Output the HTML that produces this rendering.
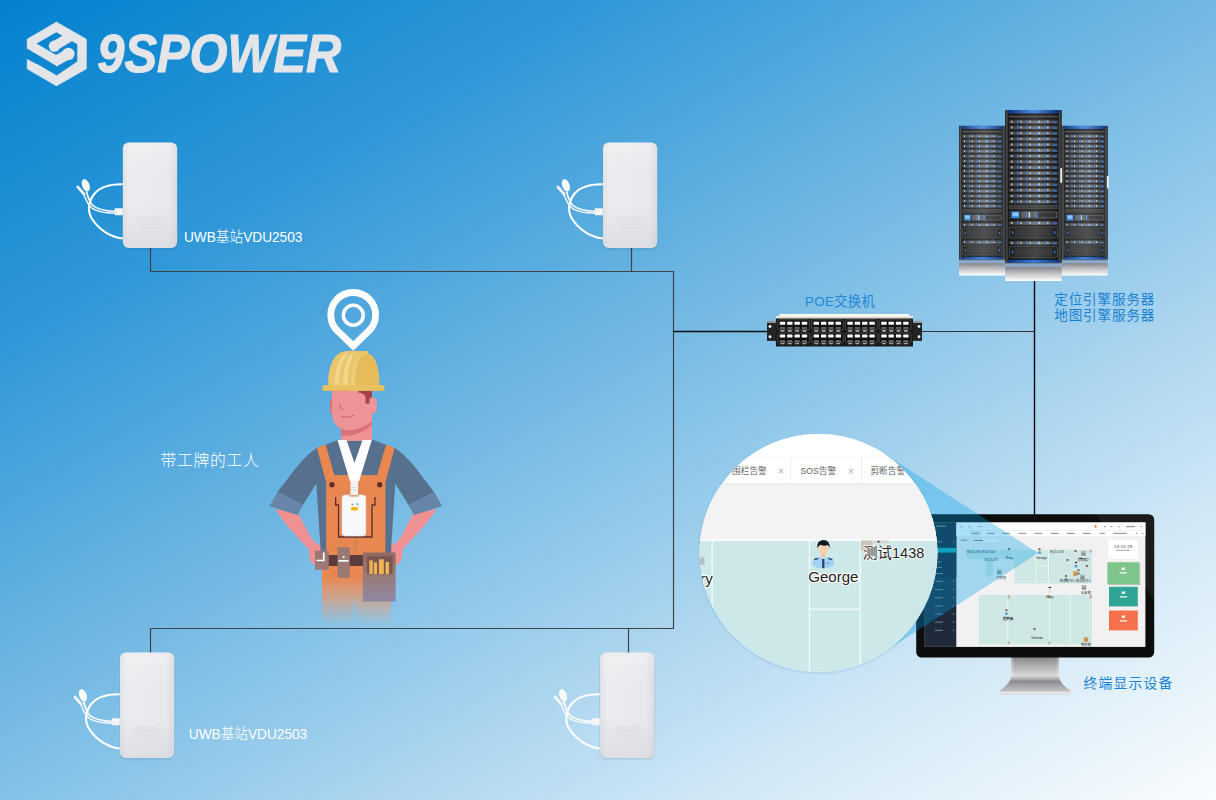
<!DOCTYPE html>
<html lang="zh-CN">
<head>
<meta charset="utf-8">
<title>UWB定位系统</title>
<style>
html,body{margin:0;padding:0;}
body{width:1216px;height:800px;overflow:hidden;position:relative;
background:linear-gradient(150deg,#0381cf 0%,#3299d8 24%,#72b8e3 47%,#83c1e7 53%,#d1e8f6 80.7%,#f9fcfe 100%);
font-family:"Liberation Sans","Noto Sans CJK SC",sans-serif;}
svg{position:absolute;left:0;top:0;display:block;}
text{font-family:"Liberation Sans","Noto Sans CJK SC",sans-serif;}
.lw{fill:#fff;font-size:14.500px;font-weight:300;}
.lb{fill:#1a82d2;font-size:13.600px;font-weight:400;letter-spacing:0.850px;}
</style>
</head>
<body>
<svg width="1216" height="800" viewBox="0 0 1216 800">
<defs>
<linearGradient id="stBody" x1="0" y1="0" x2="1" y2="0">
<stop offset="0" stop-color="#dfe2e6"/><stop offset="0.12" stop-color="#ebecef"/><stop offset="0.85" stop-color="#e8e9ed"/><stop offset="1" stop-color="#d9dce1"/>
</linearGradient>
<linearGradient id="stBodyV" x1="0" y1="0" x2="0" y2="1"><stop offset="0" stop-color="#ffffff" stop-opacity="0.150"/><stop offset="0.35" stop-color="#ffffff" stop-opacity="0"/><stop offset="0.6" stop-color="#c8ccd4" stop-opacity="0"/><stop offset="1" stop-color="#c8ccd4" stop-opacity="0.400"/></linearGradient>
<g id="station">
<!-- cable -->
<path d="M53.500 41.700 C40 41.400 30 44 24 52 C18 60 17.500 70 23 77.500 C30 88 42 95 53.500 96" fill="none" stroke="#ffffff" stroke-width="2.100"/>
<path d="M46 69 C36 68.500 27 67 22.500 62.500 C19 58.500 18 54 16.600 49" fill="none" stroke="#ffffff" stroke-width="1.700"/>
<path d="M46 70.800 C35 70.500 25 69 20.500 64 C16.500 59.500 15.500 55.500 13.800 51.500" fill="none" stroke="#f6f7f9" stroke-width="1.500"/>
<rect x="44.800" y="65.700" width="9" height="7" rx="1" fill="#f6f7f9"/>
<path d="M47 66 V72.500" stroke="#dfe2e6" stroke-width="0.600"/>
<ellipse cx="16" cy="42.800" rx="3.700" ry="6.400" transform="rotate(-20 16 42.800)" fill="#fbfbfc"/>
<path d="M8 44.500 L14.200 51.600" stroke="#f4f5f7" stroke-width="2.700" stroke-linecap="round"/>
<!-- body -->
<rect x="52" y="1.500" width="56.400" height="106.200" rx="7" fill="#0a3c66" opacity="0.050"/>
<rect x="52.500" y="1" width="55.400" height="105.800" rx="6.500" fill="#0a3c66" opacity="0.060"/>
<rect x="53" y="0" width="54.400" height="105.600" rx="6" fill="url(#stBody)"/>
<rect x="53" y="0" width="54.400" height="105.600" rx="6" fill="url(#stBodyV)"/>
<rect x="68.500" y="74.700" width="23.500" height="7" rx="3.500" fill="#e4e6ea" stroke="#d6d9de" stroke-width="0.700"/>
<rect x="73" y="77" width="14.500" height="2.400" rx="1.200" fill="#dcdfe4"/>
<rect x="58" y="5.500" width="42" height="5" rx="1" fill="#ffffff" opacity="0.180"/>
</g>
</defs>

<!-- connection lines -->
<g fill="none" stroke="#3d4349" stroke-width="1.200">
<path d="M150.500 248 V271.500 H673.500 V628.500 H150.500 V653"/>
<path d="M631.500 248 V271.500"/>
<path d="M628.500 628.500 V653"/>
</g>
<path d="M673.500 331.500 H768" stroke="#111" stroke-width="1.300" fill="none"/>
<path d="M921 331.500 H1034" stroke="#333" stroke-width="1.200" fill="none"/>
<path d="M1034.500 281 V516" stroke="#0a0a0a" stroke-width="1.400" fill="none"/>

<!-- base stations -->
<use href="#station" x="69.800" y="142.500"/>
<use href="#station" x="549.900" y="142.500"/>
<use href="#station" x="66.900" y="652.500"/>
<use href="#station" x="547.100" y="652.500"/>

<!-- labels -->
<text class="lw" x="184" y="242.100" textLength="118.400" lengthAdjust="spacingAndGlyphs">UWB基站VDU2503</text>
<text class="lw" x="188.800" y="739.100" textLength="118.400" lengthAdjust="spacingAndGlyphs">UWB基站VDU2503</text>
<text class="lw" x="160.500" y="466.100" style="font-size:15.800px;letter-spacing:0.700px">带工牌的工人</text>
<text class="lb" x="805" y="305.700" textLength="70.200" lengthAdjust="spacingAndGlyphs" style="letter-spacing:0.400px;fill:#2186d6">POE交换机</text>
<text class="lb" x="1054.200" y="303.700">定位引擎服务器</text>
<text class="lb" x="1054.200" y="319.900">地图引擎服务器</text>
<text class="lb" x="1083.500" y="687.600" style="font-size:13.800px;letter-spacing:1.200px">终端显示设备</text>

<!--WORKER-->
<g id="worker">
<defs>
<linearGradient id="legFade" x1="0" y1="549" x2="0" y2="626" gradientUnits="userSpaceOnUse">
<stop offset="0" stop-color="#e8874f"/><stop offset="0.36" stop-color="#e8874f"/><stop offset="0.62" stop-color="#e39a72" stop-opacity="0.78"/><stop offset="1" stop-color="#dfa88a" stop-opacity="0"/>
</linearGradient>
<linearGradient id="pouchFade" x1="0" y1="552" x2="0" y2="602" gradientUnits="userSpaceOnUse">
<stop offset="0" stop-color="#8f6962"/><stop offset="0.45" stop-color="#9a7874"/><stop offset="1" stop-color="#8d8aa6"/>
</linearGradient>
<g id="wkHalf">
<!-- forearm + hand -->
<path d="M275 509 C282 520 290 529 296 535.500 L309 549.500 Q309 558 311 561.500 Q313 565 316 564.500 L321 563 V545.500 Q318 544.500 316.500 543.500 L311.500 538.500 L298.500 514 Z" fill="#ef9092"/>
<!-- shirt: sleeve + torso half -->
<path d="M356 439 L338 440 L316.900 448 C306 455 296 467 288.700 477.500 L277.500 492 L303 505 L316.300 483.500 L320.500 548 L320.500 553 L356 553 Z" fill="#56708e"/>
<!-- cuff -->
<path d="M277.500 491.900 L303.100 505 L297.500 515 L269.400 506.200 Z" fill="#6785a7"/>
<!-- overall strap + bib half -->
<path d="M316.900 448 L325.600 444.400 L334.400 475 L356 475 L356 556 L326.200 556 L326.200 482.500 Z" fill="#e8874f"/>
<circle cx="331.900" cy="484.700" r="2.600" fill="#5c2e30"/>
</g>
</defs>
<!-- legs / waist -->
<path d="M321.900 548.500 H392.500 L390.500 626 H357.500 L355 597 L352.500 626 H321.900 Z" fill="url(#legFade)"/>
<use href="#wkHalf"/>
<use href="#wkHalf" transform="translate(711.600 0) scale(-1 1)"/>
<!-- neck -->
<path d="M341.200 418 H372 V441 L356 446 L341.200 441 Z" fill="#ee9294"/>
<!-- shirt collar inner (between lanyard) -->
<path d="M346 441 H366 L356 466 Z" fill="#56708e"/>
<!-- face -->
<rect x="330" y="398.500" width="4" height="15.500" rx="2" fill="#d9767c"/>
<rect x="369" y="397.500" width="7.700" height="15.800" rx="3.600" fill="#ee9496"/>
<path d="M341.200 428 Q356 433 372 421 V425.200 Q357 437.500 341.200 435.600 Z" fill="#d9707a"/>
<path d="M332 390.500 H372 V421.800 Q357 431.500 345 430 Q338.500 429 334.500 423 Q332 419.500 332 414 Z" fill="#ee9496"/>
<path d="M358.300 390.300 H372 V397.600 L369.500 398.300 V403.500 H365.600 V397.200 Q364 393 358.300 392.600 Z" fill="#a5414c"/>
<path d="M339.800 404 q0.200 4 3.400 5.200" fill="none" stroke="#cf5f6b" stroke-width="1.100"/>
<path d="M341.200 416.300 q6.300 2.200 12.500 -1.100" fill="none" stroke="#cf5f6b" stroke-width="1.200"/>
<!-- helmet -->
<path d="M328.200 386 C327.800 370 331.500 357 341 352.200 L346 351 H368.200 V353.800 C375.500 356.500 379.800 369 379.300 386 Z" fill="#ebc66d"/>
<path d="M355.700 386 C354.500 372 357 361 363 355.300 C366 353.200 369 353.500 371 355 C376.500 359 379.700 371 379.300 386 Z" fill="#e6bb59"/>
<path d="M334.700 386 C334.200 372 338 360 345 353.500 L348.400 353.500 C342 360 338.800 372 339.300 386 Z" fill="#f2d78c"/>
<path d="M343.200 386 C342.700 372 345.500 360 351 353.500 L354.300 353.500 C349.500 360 347.300 372 347.800 386 Z" fill="#f2d78c"/>
<path d="M351.500 386 C351 372 353.500 362 358 355.500 L360 354.500 C356.500 361 354.600 372 355 386 Z" fill="#f0d080" opacity="0.700"/>
<rect x="322.400" y="385.300" width="62" height="5.600" rx="1" fill="#e9c264"/>
<rect x="322.400" y="389.600" width="62" height="1.300" fill="#d9ab4c" opacity="0.450"/>
<!-- lanyard -->
<path d="M337.500 440 H346.500 L354.500 463 L362.500 440 H371.800 L359 481.500 H350 Z" fill="#ffffff"/>
<rect x="350.500" y="481" width="7.600" height="14.500" rx="1" fill="#f3f4f5"/>
<path d="M351.500 487.500 H357 M351.500 490 H357" stroke="#cfd3d8" stroke-width="0.700"/>
<!-- pocket outline -->
<path d="M335.600 497 V505 H338.500 V537 H372 V505 H375 V497" fill="none" stroke="#5a3032" stroke-width="1.300"/>
<!-- badge -->
<rect x="342" y="495" width="23.800" height="41" rx="3.200" fill="#f7f8f9" stroke="#e1e3e6" stroke-width="0.600"/>
<rect x="349.500" y="495" width="9" height="1.600" fill="#e9a070"/>
<circle cx="352.300" cy="504.300" r="0.900" fill="#d05a4a"/>
<circle cx="357.300" cy="504.300" r="1.200" fill="#6fd0ee"/>
<rect x="350.800" y="507" width="7.400" height="3.600" rx="1.800" fill="#f0b21e"/>
<!-- belt -->
<rect x="326" y="555" width="38" height="11" fill="#5c3b3b"/>
<!-- pouches -->
<rect x="315" y="550.600" width="13.800" height="19.200" fill="#9b7873"/>
<path d="M323.800 552.500 V560.500 H316.500" fill="none" stroke="#fff" stroke-width="1.700"/>
<rect x="337.500" y="547.200" width="12.300" height="30.600" fill="#9b7873"/>
<path d="M338.500 560.800 H348.500" stroke="#fff" stroke-width="1.700"/>
<circle cx="343.600" cy="557" r="1.100" fill="#fff"/>
<rect x="362.900" y="552.500" width="32.700" height="49" fill="url(#pouchFade)"/>
<rect x="366.900" y="556.200" width="25.600" height="18" fill="#7c5651"/>
<rect x="369.400" y="560.300" width="3.300" height="13.700" fill="#f1b455"/>
<rect x="373.800" y="562.500" width="3.300" height="11.500" fill="#f1b455"/>
<rect x="379" y="559.300" width="4.800" height="14.700" fill="#f1b455"/>
<rect x="385.600" y="562" width="3.400" height="12" fill="#f1b455"/>
<!-- pin -->
<path d="M353.200 346 L338.560 331.860 A22.400 22.400 0 1 1 367.840 331.860 Z" fill="none" stroke="#fff" stroke-width="6.800" stroke-linejoin="miter" stroke-miterlimit="6"/>
<circle cx="353.300" cy="315.200" r="9.950" fill="none" stroke="#fff" stroke-width="3.500"/>
</g>
<!--/WORKER-->
<!--SWITCH-->
<g id="switch">
<defs><linearGradient id="swTop" x1="0" y1="0" x2="0" y2="1"><stop offset="0" stop-color="#ffffff"/><stop offset="0.55" stop-color="#f1eee8"/><stop offset="1" stop-color="#b9b2a4"/></linearGradient>
<g id="swGrp">
<rect x="0" y="0" width="31.800" height="10" rx="1.600" fill="#121212" stroke="#5a5a5a" stroke-width="0.700"/>
<rect x="2.00" y="1.85" width="5.400" height="3" rx="0.500" fill="#ffffff"/>
<rect x="2.20" y="7.4" width="5" height="1.600" fill="#777"/>
<rect x="2.70" y="10.4" width="4" height="1.200" rx="0.400" fill="#dcdcdc"/>
<rect x="9.33" y="1.85" width="5.400" height="3" rx="0.500" fill="#ffffff"/>
<rect x="9.53" y="7.4" width="5" height="1.600" fill="#777"/>
<rect x="10.03" y="10.4" width="4" height="1.200" rx="0.400" fill="#dcdcdc"/>
<rect x="16.66" y="1.85" width="5.400" height="3" rx="0.500" fill="#ffffff"/>
<rect x="16.86" y="7.4" width="5" height="1.600" fill="#777"/>
<rect x="17.36" y="10.4" width="4" height="1.200" rx="0.400" fill="#dcdcdc"/>
<rect x="23.99" y="1.85" width="5.400" height="3" rx="0.500" fill="#ffffff"/>
<rect x="24.19" y="7.4" width="5" height="1.600" fill="#777"/>
<rect x="24.69" y="10.4" width="4" height="1.200" rx="0.400" fill="#dcdcdc"/>
<rect x="0" y="13.2" width="31.800" height="9.7" rx="1.600" fill="#121212" stroke="#5a5a5a" stroke-width="0.700"/>
<rect x="2.00" y="14.8" width="5.400" height="3" rx="0.500" fill="#ffffff"/>
<rect x="2.20" y="20.6" width="5" height="1.600" fill="#777"/>
<rect x="2.70" y="23.3" width="4" height="1.200" rx="0.400" fill="#a9a9a9"/>
<rect x="9.33" y="14.8" width="5.400" height="3" rx="0.500" fill="#ffffff"/>
<rect x="9.53" y="20.6" width="5" height="1.600" fill="#777"/>
<rect x="10.03" y="23.3" width="4" height="1.200" rx="0.400" fill="#a9a9a9"/>
<rect x="16.66" y="14.8" width="5.400" height="3" rx="0.500" fill="#ffffff"/>
<rect x="16.86" y="20.6" width="5" height="1.600" fill="#777"/>
<rect x="17.36" y="23.3" width="4" height="1.200" rx="0.400" fill="#a9a9a9"/>
<rect x="23.99" y="14.8" width="5.400" height="3" rx="0.500" fill="#ffffff"/>
<rect x="24.19" y="20.6" width="5" height="1.600" fill="#777"/>
<rect x="24.69" y="23.3" width="4" height="1.200" rx="0.400" fill="#a9a9a9"/>
</g></defs>
<rect x="767" y="321.400" width="9" height="19.500" fill="#242424"/>
<rect x="767" y="321.400" width="9" height="1.400" fill="#b8b4ac"/>
<circle cx="770.0" cy="326.500" r="1.450" fill="#e9f1f8"/>
<circle cx="770.0" cy="336.800" r="1.450" fill="#e9f1f8"/>
<rect x="913" y="321.400" width="9" height="19.500" fill="#242424"/>
<rect x="913" y="321.400" width="9" height="1.400" fill="#b8b4ac"/>
<circle cx="919.0" cy="326.500" r="1.450" fill="#e9f1f8"/>
<circle cx="919.0" cy="336.800" r="1.450" fill="#e9f1f8"/>
<path d="M779.600 313.900 H909.300 V316.100 H913 V319 H775.900 V316.100 H779.600 Z" fill="url(#swTop)"/>
<rect x="775.900" y="318.600" width="137.100" height="27.900" fill="#1a1a1a"/>
<use href="#swGrp" x="777.8" y="319.800"/>
<use href="#swGrp" x="811.6" y="319.800"/>
<use href="#swGrp" x="845.4" y="319.800"/>
<use href="#swGrp" x="879.2" y="319.800"/>
</g>
<!--/SWITCH-->
<!--SERVERS-->
<g id="servers"><defs>
<linearGradient id="svRow" x1="0" y1="0" x2="1" y2="0"><stop offset="0" stop-color="#3c3c3c"/><stop offset="0.35" stop-color="#565656"/><stop offset="0.62" stop-color="#787878"/><stop offset="0.8" stop-color="#585858"/><stop offset="1" stop-color="#3a3a3a"/></linearGradient>
<linearGradient id="svBlue" x1="0" y1="0" x2="1" y2="0"><stop offset="0" stop-color="#0b2f78"/><stop offset="0.5" stop-color="#2f7fe6"/><stop offset="1" stop-color="#0b2f78"/></linearGradient>
<linearGradient id="svRail" x1="0" y1="0" x2="1" y2="0"><stop offset="0" stop-color="#2a2a2a"/><stop offset="0.5" stop-color="#4c4c4c"/><stop offset="1" stop-color="#1c1c1c"/></linearGradient>
<linearGradient id="svRef" x1="0" y1="0" x2="0" y2="1"><stop offset="0" stop-color="#5f6f86"/><stop offset="0.12" stop-color="#8fb2dc"/><stop offset="0.28" stop-color="#8a8c90"/><stop offset="0.6" stop-color="#c4c4c4"/><stop offset="1" stop-color="#ffffff"/></linearGradient>
<linearGradient id="svSheen" x1="0" y1="0" x2="1" y2="0"><stop offset="0" stop-color="#fff" stop-opacity="0"/><stop offset="0.55" stop-color="#fff" stop-opacity="0.13"/><stop offset="1" stop-color="#fff" stop-opacity="0"/></linearGradient>
<g id="svR">
<rect x="3.800" y="-1.800" width="48.800" height="3.600" fill="url(#svRow)"/>
<rect x="3.800" y="-1.800" width="48.800" height="0.900" fill="#222" opacity="0.600"/>
<rect x="12.0" y="-1.700" width="1.500" height="3.400" fill="#2a74d8"/>
<rect x="21.2" y="-1.700" width="1.500" height="3.400" fill="#2a74d8"/>
<rect x="39.4" y="-1.700" width="1.500" height="3.400" fill="#2a74d8"/>
<rect x="30.6" y="-0.200" width="3.600" height="1.600" fill="#2a74d8"/>
<rect x="48.0" y="-0.200" width="3.600" height="1.600" fill="#2a74d8"/>
<rect x="6.0" y="-1" width="1.300" height="2" fill="#d4d4d4"/>
<rect x="15.2" y="-1" width="1.300" height="2" fill="#d4d4d4"/>
<rect x="24.2" y="-1" width="1.300" height="2" fill="#d4d4d4"/>
<rect x="33.2" y="-1" width="1.300" height="2" fill="#d4d4d4"/>
<rect x="42.0" y="-1" width="1.300" height="2" fill="#d4d4d4"/>
</g>
<g id="svB">
<rect x="4.200" y="0" width="48" height="10.800" rx="0.800" fill="#1d1d1d" stroke="#5a5a5a" stroke-width="0.700"/>
<rect x="9.500" y="1.600" width="37.500" height="7.600" fill="#2c2c2c"/>
<rect x="6.600" y="4.200" width="1.500" height="2.600" fill="#2a74d8"/><rect x="48.700" y="4.200" width="1.500" height="2.600" fill="#2a74d8"/>
</g>
<g id="svCab">
<rect x="0" y="0" width="56.400" height="152.700" fill="#171717"/>
<rect x="0.300" y="0" width="3" height="152.700" fill="url(#svRail)"/><rect x="53.100" y="0" width="3" height="152.700" fill="url(#svRail)"/>
<rect x="2.600" y="0" width="51.200" height="3.400" fill="url(#svBlue)"/>
<rect x="3.800" y="5.800" width="48.800" height="1.500" fill="#4e4e4e"/>
<use href="#svR" y="11.70"/>
<use href="#svR" y="17.40"/>
<use href="#svR" y="23.10"/>
<use href="#svR" y="28.80"/>
<use href="#svR" y="34.50"/>
<use href="#svR" y="40.20"/>
<use href="#svR" y="45.90"/>
<use href="#svR" y="51.60"/>
<use href="#svR" y="57.30"/>
<use href="#svR" y="63.00"/>
<use href="#svR" y="68.70"/>
<use href="#svR" y="74.40"/>
<use href="#svR" y="80.10"/>
<use href="#svR" y="85.80"/>
<use href="#svR" y="91.50"/>
<rect x="4.200" y="95.200" width="48" height="3.600" fill="#333" stroke="#555" stroke-width="0.500"/>
<rect x="3.800" y="100.800" width="48.800" height="8.200" fill="#2b2b2b"/>
<rect x="6.300" y="101.600" width="7.800" height="6.400" fill="#2f8ef2"/><rect x="7.300" y="102.500" width="5.800" height="3.400" fill="#86c8ff"/>
<rect x="16" y="101.800" width="36" height="6" fill="#555"/><rect x="33" y="102.500" width="18" height="4.600" fill="#2a2a2a"/>
<rect x="20.600" y="101.500" width="1.500" height="6.600" fill="#2a74d8"/><rect x="29.800" y="101.500" width="1.500" height="6.600" fill="#2a74d8"/><rect x="23.500" y="102" width="1.300" height="5.500" fill="#ddd"/>
<use href="#svR" y="112.900"/>
<use href="#svB" y="117"/>
<use href="#svR" y="132.800"/>
<use href="#svB" y="136.500"/>
<rect x="3.300" y="0" width="49.800" height="149" fill="url(#svSheen)"/>
<rect x="2.600" y="149.800" width="51.200" height="2.900" fill="url(#svBlue)"/>
<rect x="0" y="152.700" width="56.400" height="18.300" fill="url(#svRef)"/>
<rect x="6.600" y="160.500" width="1.400" height="2.400" fill="#9cc4f4"/><rect x="48.700" y="160.500" width="1.400" height="2.400" fill="#9cc4f4"/>
</g>
</defs>
<use href="#svCab" transform="translate(959.100 125.900) scale(0.8174 0.8749)"/>
<use href="#svCab" transform="translate(1061.600 125.900) scale(0.8174 0.8749)"/>
<use href="#svCab" transform="translate(1005.200 110)"/>
<rect x="959.100" y="125.900" width="46.100" height="133.600" fill="#9fb4c8" opacity="0.100"/><rect x="1061.600" y="125.900" width="46.400" height="133.600" fill="#9fb4c8" opacity="0.100"/>
<rect x="1060.300" y="168" width="1.800" height="15" rx="0.800" fill="#f2f2f2"/><rect x="1106.900" y="176" width="1.800" height="12.500" rx="0.800" fill="#f2f2f2"/>
</g>
<!--/SERVERS-->
<!--MONITOR-->
<g id="monitor">
<defs>
<linearGradient id="mnStand" x1="0" y1="657.600" x2="0" y2="694.300" gradientUnits="userSpaceOnUse">
<stop offset="0" stop-color="#86868b"/><stop offset="0.18" stop-color="#a8a8ac"/><stop offset="0.5" stop-color="#d8d8db"/><stop offset="0.65" stop-color="#8b8b90"/><stop offset="0.76" stop-color="#a5a5a9"/><stop offset="0.9" stop-color="#bcbcbf"/><stop offset="0.96" stop-color="#f0f0f0"/><stop offset="1" stop-color="#c9c9cc"/>
</linearGradient>
<linearGradient id="mnStandX" x1="1011" y1="0" x2="1059" y2="0" gradientUnits="userSpaceOnUse">
<stop offset="0" stop-color="#fff" stop-opacity="0.350"/><stop offset="0.08" stop-color="#fff" stop-opacity="0"/><stop offset="0.92" stop-color="#fff" stop-opacity="0"/><stop offset="1" stop-color="#fff" stop-opacity="0.300"/>
</linearGradient>
<g id="mnP"><circle cx="0" cy="-2.200" r="1.150" fill="#f2c9a5"/><path d="M-1.200 -2.500 a1.200 1.200 0 0 1 2.400 0 z" fill="#1d1d1d"/><path d="M-1.700 1.700 q0 -2.600 1.700 -2.600 q1.700 0 1.700 2.600 z" fill="#5a9ede"/></g>
<g id="mnPw"><circle cx="0" cy="-2.200" r="1.150" fill="#f2d9c5"/><path d="M-1.300 -2.400 a1.300 1.300 0 0 1 2.600 0 z" fill="#1d1d1d"/><path d="M-1.600 1.700 q0 -2.600 1.600 -2.600 q1.600 0 1.600 2.600 z" fill="#eef1f3" stroke="#aeb6bc" stroke-width="0.300"/></g>
<g id="mnBox"><rect x="-2.200" y="-2.200" width="4.400" height="4.400" fill="#c98a45"/><rect x="-2.200" y="-2.200" width="4.400" height="1.400" fill="#e0b070"/></g>
<g id="mnBoxG"><rect x="-2.200" y="-2.200" width="4.400" height="4.400" fill="#8d9398"/><rect x="-2.200" y="-2.200" width="4.400" height="1.400" fill="#b9bec2"/></g>
</defs>
<!-- stand -->
<path d="M1011.100 657 H1059 V676 C1059.500 682 1064 686 1071.300 691.500 Q1072.300 694 1069 694.300 H1001 Q998 694 998.800 691.500 C1006 686 1010.600 682 1011.100 676 Z" fill="url(#mnStand)"/>
<path d="M1011.100 657 H1059 V676 H1011.100 Z" fill="url(#mnStandX)"/>
<!-- bezel -->
<rect x="916.200" y="514.200" width="238" height="143.400" rx="5.500" fill="#0d0d0d"/>
<path d="M1096 514.200 H1148.700 Q1154.200 514.200 1154.200 519.700 V600 Z" fill="#ffffff" opacity="0.060"/>
<circle cx="1034.600" cy="518.200" r="0.800" fill="#333"/>
<!-- screen -->
<rect x="924.800" y="522.500" width="220.600" height="124.400" fill="#f1f1f1"/>
<!-- sidebar -->
<rect x="924.800" y="522.500" width="31.500" height="124.400" fill="#1f2b3b"/>
<rect x="924.800" y="522.500" width="31.500" height="55" fill="#18222e"/>
<rect x="924.800" y="547.800" width="31.500" height="4.800" fill="#17a3a6"/>
<g fill="#8ea0b4" opacity="0.700">
<rect x="936" y="525.600" width="10" height="1.200"/>
<rect x="936" y="541.500" width="6" height="1"/><rect x="936" y="561.500" width="5" height="1"/><rect x="936" y="567" width="6" height="1"/><rect x="936" y="573" width="7" height="1"/>
<rect x="935" y="580.800" width="8" height="1.100"/><rect x="935" y="589" width="8" height="1.100"/><rect x="935" y="597.200" width="8" height="1.100"/><rect x="935" y="605.400" width="8" height="1.100"/><rect x="935" y="613.500" width="8" height="1.100"/><rect x="935" y="621.600" width="8" height="1.100"/><rect x="935" y="629.800" width="8" height="1.100"/>
<rect x="952.800" y="541.300" width="1.300" height="1.300"/><rect x="952.800" y="580.600" width="1.300" height="1.300"/><rect x="952.800" y="588.800" width="1.300" height="1.300"/><rect x="952.800" y="597" width="1.300" height="1.300"/><rect x="952.800" y="605.200" width="1.300" height="1.300"/><rect x="952.800" y="613.300" width="1.300" height="1.300"/><rect x="952.800" y="621.400" width="1.300" height="1.300"/><rect x="952.800" y="629.600" width="1.300" height="1.300"/>
</g>
<!-- header -->
<rect x="956.300" y="522.500" width="189.100" height="13.600" fill="#ffffff"/>
<rect x="956.300" y="530.300" width="189.100" height="0.500" fill="#e4e4e4"/>
<g fill="#a3a8ae">
<rect x="960.500" y="526" width="2" height="1.200"/><rect x="968.500" y="526" width="2" height="1.200"/><rect x="978" y="526" width="3.500" height="0.800"/>
<rect x="1104" y="526" width="2" height="1.200"/><rect x="1110.500" y="526" width="2" height="1.200"/><rect x="1118.500" y="526" width="1.600" height="1.200"/><rect x="1126" y="525.800" width="9" height="1.500"/><rect x="1140.500" y="526" width="1.500" height="1.200"/>
</g>
<rect x="1094.500" y="525.300" width="2" height="2.200" fill="#e8703a"/>
<rect x="969.500" y="531" width="12" height="4.800" fill="#eaf3f4"/>
<g fill="#9a9fa6">
<rect x="971.500" y="532.800" width="8" height="1.200"/><rect x="987" y="532.800" width="7.500" height="1.200"/><rect x="1002" y="532.800" width="8" height="1.200"/><rect x="1018.500" y="532.800" width="8" height="1.200"/><rect x="1034.500" y="532.800" width="8" height="1.200"/><rect x="1051" y="532.800" width="8" height="1.200"/><rect x="1067" y="532.800" width="8" height="1.200"/><rect x="1083" y="532.800" width="8" height="1.200"/><rect x="1099.500" y="532.800" width="5.500" height="1.200"/><rect x="1113" y="532.800" width="14" height="1.200"/><rect x="1136" y="532.800" width="1.500" height="1.200"/><rect x="1142" y="532.800" width="1.200" height="1.200"/>
</g>
<!-- selector -->
<rect x="960.500" y="539.600" width="6.500" height="1.100" fill="#8a8f96"/>
<rect x="972.500" y="538" width="27" height="5" rx="0.600" fill="#fbfbfb" stroke="#dcdcdc" stroke-width="0.400"/>
<rect x="974" y="539.900" width="9" height="1.100" fill="#6f757c"/>
<!-- map -->
<g fill="#cfe8e5">
<rect x="1014.400" y="549.800" width="77.600" height="33.700"/>
<rect x="967" y="549.800" width="47" height="9.200"/>
<rect x="986" y="559" width="7" height="16.500"/>
<rect x="978.900" y="595" width="113.100" height="49.400"/>
</g>
<g fill="#ffffff" opacity="0.850">
<rect x="1035.500" y="549.800" width="0.700" height="33.700"/><rect x="1048" y="549.800" width="0.700" height="33.700"/><rect x="1036.200" y="565" width="11.800" height="0.600"/>
<rect x="1007.400" y="595" width="0.700" height="49.400"/><rect x="1049.200" y="595" width="0.700" height="49.400"/><rect x="1069.800" y="595" width="0.700" height="49.400"/>
</g>
<g fill="#c5b3a6">
<rect x="1007.600" y="595" width="2.400" height="3.500"/><rect x="1048.300" y="595" width="2.400" height="3.500"/><rect x="1089.600" y="595" width="2.400" height="3.500"/><rect x="1007.600" y="641.500" width="2.400" height="2.900"/><rect x="1048.300" y="641.500" width="2.400" height="2.900"/><rect x="1089.600" y="549.800" width="2.400" height="2.600"/>
</g>
<!-- people -->
<use href="#mnPw" x="1009" y="552"/><use href="#mnP" x="1039.500" y="552"/><use href="#mnPw" x="1049.800" y="590.500"/><use href="#mnP" x="1006.500" y="613"/><use href="#mnPw" x="1034.500" y="632"/>
<use href="#mnPw" x="1075.500" y="554"/><use href="#mnPw" x="1067.500" y="563"/><use href="#mnP" x="1076" y="565.500"/><use href="#mnPw" x="1080.500" y="561.500"/><use href="#mnPw" x="1087" y="569"/><use href="#mnP" x="1066" y="579"/><use href="#mnP" x="1078.500" y="573"/>
<use href="#mnBoxG" x="999.200" y="572"/><use href="#mnBoxG" x="1083.500" y="553.500"/><use href="#mnBoxG" x="1084" y="587.500"/><use href="#mnBoxG" x="1082.500" y="577"/>
<use href="#mnBox" x="1075.500" y="573.500"/><use href="#mnBox" x="1086" y="639.500"/>
<g style="font-size:3.300px;fill:#222" text-anchor="middle">
<text x="1041.500" y="558.900">George</text><text x="1009.500" y="558.900">Rory</text><text x="1049.800" y="597.500">Mary</text><text x="1037" y="639.400">Yolanda</text><text x="1008" y="620.200" style="font-weight:700">程梦梅</text>
<text x="981" y="553.300" style="fill:#345">测试1438 测试1440</text><text x="991" y="560.800" style="fill:#456">测试1439</text><text x="1056.500" y="553.300" style="fill:#456">测试1438</text><text x="1001" y="578.700" style="fill:#456">货物箱</text><text x="1086" y="645.600" style="fill:#222">物资箱</text>
<text x="1083" y="560.500" style="fill:#333">货物箱2</text><text x="1075" y="581.500" style="fill:#333">测试定位1 测试定位2</text><text x="1086" y="593.500" style="fill:#333">设备箱</text>
</g>
<!-- right panel -->
<rect x="1108.400" y="539.500" width="29.400" height="19.400" fill="#ffffff"/>
<text x="1123.100" y="547.500" text-anchor="middle" style="font-size:4.400px;fill:#444;letter-spacing:0.200px">13:15:29</text>
<rect x="1116" y="549.800" width="14" height="0.800" fill="#8a8a8a"/>
<rect x="1108.600" y="563.200" width="31.800" height="22" fill="#5a6a60" opacity="0.300"/>
<rect x="1107.400" y="562.200" width="31.800" height="22" fill="#7ec58c"/>
<rect x="1109" y="586.800" width="28.800" height="19.600" fill="#2fa596"/>
<rect x="1109" y="610.500" width="28.800" height="19.900" fill="#f5714b"/>
<g fill="#ffffff" opacity="0.900">
<rect x="1121.500" y="567.500" width="3.400" height="2.400"/><rect x="1119.500" y="572.200" width="7.400" height="1.300"/>
<rect x="1121.700" y="591.500" width="3.400" height="2.400"/><rect x="1119.700" y="596.200" width="7.400" height="1.300"/>
<rect x="1121.700" y="615.500" width="3.400" height="2.400"/><rect x="1119.700" y="620.200" width="7.400" height="1.300"/>
</g>
</g>
<!-- beam -->
<path d="M1038 553 L883.300 453 L883.300 652.600 Z" fill="#00a0eb" opacity="0.330"/>
<!--/MONITOR-->
<!--CIRCLE-->
<g id="magnifier">
<defs><clipPath id="magClip"><circle cx="818.500" cy="552.800" r="119"/></clipPath></defs>
<circle cx="818.500" cy="553.800" r="120.500" fill="#1c6fae" opacity="0.080"/>
<g clip-path="url(#magClip)">
<rect x="699" y="433" width="240" height="240" fill="#ffffff"/>
<rect x="699" y="483.400" width="240" height="57" fill="#f3f3f3"/>
<rect x="699" y="483.400" width="240" height="1.600" fill="#e6e6e6" opacity="0.700"/>
<rect x="790.300" y="457" width="0.800" height="26.400" fill="#ececec"/>
<rect x="861.200" y="457" width="0.800" height="26.400" fill="#ececec"/>
<rect x="699" y="456.600" width="240" height="0.600" fill="#f4f4f4"/>
<!-- map -->
<rect x="699" y="540.200" width="240" height="134" fill="#cde8e8"/>
<rect x="699" y="539.600" width="240" height="1.300" fill="#ffffff"/>
<rect x="711.500" y="540.200" width="1.300" height="134" fill="#f4fbfb"/>
<rect x="808.800" y="540.200" width="1.300" height="134" fill="#f4fbfb"/>
<rect x="859.600" y="540.200" width="1.300" height="134" fill="#f4fbfb"/>
<rect x="808.800" y="608.500" width="52" height="1.300" fill="#f4fbfb"/>
<!-- box icon -->
<rect x="860.800" y="540.500" width="11.500" height="10.500" fill="#c9c3bb"/>
<rect x="872.300" y="540.500" width="17" height="2.600" fill="#d8d5d0"/>
<circle cx="878.500" cy="541.800" r="1" fill="#222"/>
<rect x="699.500" y="557" width="5" height="8" rx="2" fill="#b8c0c4"/>
<!-- avatar -->
<g>
<path d="M812.300 565 Q812.300 558.500 817.500 557.300 L823.200 556.200 L829 557.300 Q834.100 558.500 834.100 565 Q830 568.300 823.200 568.300 Q816.500 568.300 812.300 565 Z" fill="#9fd0f5"/>
<path d="M820.400 556.400 L823.300 560.500 L826.200 556.400 Z" fill="#ffffff"/>
<rect x="822.200" y="558.600" width="2.200" height="9.600" fill="#2b3f63"/>
<rect x="814.200" y="558.300" width="4" height="1.500" fill="#31507f" transform="rotate(-14 816.200 559)"/>
<rect x="828.400" y="558.300" width="4" height="1.500" fill="#31507f" transform="rotate(14 830.400 559)"/>
<rect x="826.500" y="562.500" width="2.600" height="1" fill="#5a88b8"/>
<rect x="821.300" y="552" width="4" height="5.400" fill="#f0bf9a"/>
<ellipse cx="823.400" cy="548.700" rx="4.900" ry="5.900" fill="#f9cfae"/>
<path d="M817.300 548.600 Q816.500 540.200 823.200 539.900 Q830.300 540.100 829.700 548.600 Q829 545.800 827.600 544.900 Q824.500 546.500 820.400 544.700 Q818.300 545.700 817.300 548.600 Z" fill="#101820"/>
</g>
<!-- texts -->
<g style="font-size:8.700px;fill:#666">
<text x="732" y="474.200">围栏告警</text>
<text x="800.500" y="474.200">SOS告警</text>
<text x="870.400" y="474.200">剪断告警</text>
<text x="778" y="474.500" style="fill:#aaa;font-size:10px">×</text>
<text x="848" y="474.500" style="fill:#aaa;font-size:10px">×</text>
</g>
<g style="font-size:15px;fill:#222;stroke:#ffffff;stroke-width:2.200px;paint-order:stroke;stroke-linejoin:round">
<text x="808.300" y="582">George</text>
<text x="863" y="558" style="font-size:14.500px;stroke-width:1.600px">测试1438</text>
<text x="681" y="583.500">Rory</text>
</g>
</g>
</g>
<!--/CIRCLE-->
<!--LOGO-->
<g id="logo">
<defs>
<mask id="lgMask" maskUnits="userSpaceOnUse" x="20" y="15" width="75" height="78">
<path d="M56.500 22.200 L86.200 39.200 V68.800 L56.500 85.700 L27.300 68.800 V39.200 Z" fill="#fff" stroke="#fff" stroke-width="0.900" stroke-linejoin="round"/>
<path d="M56.400 32.200 L77.300 44.200 V61.400 L56.700 75.400 L36.700 63.800 V43.600 Z" fill="#000"/>
<path d="M26 48 L37 54.300 V64.200 L26 58.500 Z" fill="#000"/>
<path d="M33 41.400 L57 55.500 V66.200 L33 52 Z" fill="#fff"/>
<path d="M56 54.900 L66.500 48.900 L70 59 L56 66.700 Z" fill="#fff"/>
<circle cx="68.400" cy="54" r="6.200" fill="#fff"/>
<path d="M73 34.800 L54.400 46.200" stroke="#fff" stroke-width="9.600" fill="none"/>
<circle cx="54.400" cy="46.200" r="5.600" fill="#fff"/>
</mask>
</defs>
<rect x="20" y="15" width="75" height="78" fill="#e3e5e8" mask="url(#lgMask)"/>
<text x="97.300" y="72" textLength="244" lengthAdjust="spacingAndGlyphs" style="font-family:'Liberation Sans',sans-serif;font-weight:700;font-style:italic;font-size:54.500px;fill:#e3e5e8;stroke:#e3e5e8;stroke-width:1.100px">9SPOWER</text>
</g>
<!--/LOGO-->
</svg>
</body>
</html>
